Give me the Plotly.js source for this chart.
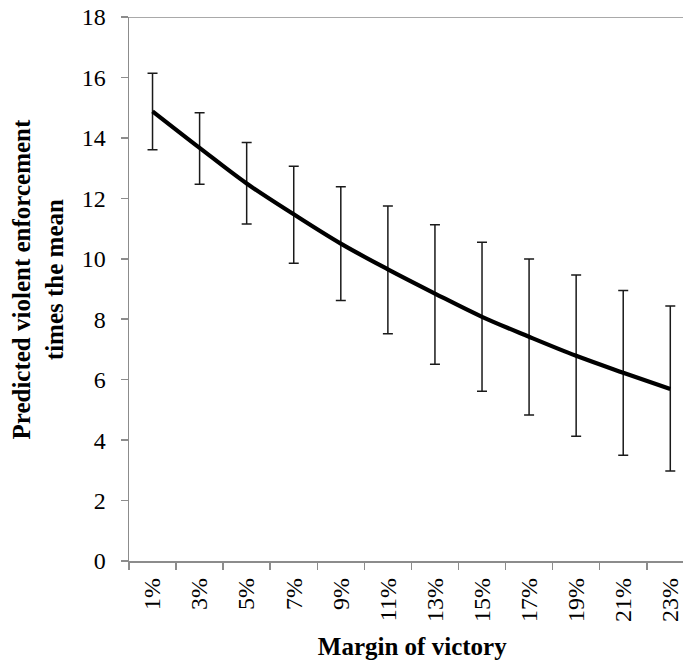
<!DOCTYPE html>
<html>
<head>
<meta charset="utf-8">
<script src="https://cdn.plot.ly/plotly-3.0.1.min.js"></script>
<style>html,body{margin:0;padding:0;overflow:hidden;background:#fff;}</style>
</head>
<body>
<div id="chart" style="width:683px;height:660px;"></div>
<script>
const categories = ["1%","3%","5%","7%","9%","11%","13%","15%","17%","19%","21%","23%"];
const predicted = [14.88,13.67,12.49,11.47,10.5,9.65,8.85,8.08,7.42,6.79,6.23,5.69];
const upper = [16.14,14.83,13.85,13.06,12.38,11.75,11.13,10.55,9.99,9.46,8.95,8.44];
const lower = [13.61,12.47,11.15,9.85,8.62,7.52,6.51,5.62,4.83,4.13,3.5,2.98];
const xTitle = "Margin of victory";
const yTitleLines = ["Predicted violent enforcement", "times the mean"];

const errPlus = upper.map((u, i) => u - predicted[i]);
const errMinus = predicted.map((p, i) => p - lower[i]);

const trace = {
  x: categories,
  y: predicted,
  type: "scatter",
  mode: "lines",
  line: {color: "#000", width: 4.2, shape: "spline", smoothing: 1},
  error_y: {
    type: "data",
    symmetric: false,
    array: errPlus,
    arrayminus: errMinus,
    color: "#1a1a1a",
    thickness: 1.5,
    width: 5
  },
  hoverinfo: "skip",
  showlegend: false
};

const serif = "Liberation Serif, Times New Roman, serif";
const axisFont = {family: serif, size: 24, color: "#000"};
const titleFont = {family: serif, size: 25, color: "#000"};
const nb = n => "&nbsp;".repeat(n);

const layout = {
  width: 683,
  height: 660,
  margin: {l: 129, r: 0, t: 17, b: 99},
  paper_bgcolor: "#fff",
  plot_bgcolor: "#fff",
  xaxis: {
    type: "category",
    range: [-0.5, 11.27],
    tickson: "boundaries",
    ticks: "outside",
    ticklen: 7,
    tickwidth: 1.5,
    tickcolor: "#8c8c8c",
    showline: true,
    linecolor: "#8c8c8c",
    linewidth: 1.5,
    showgrid: false,
    zeroline: false,
    tickangle: -90,
    tickfont: axisFont,
    ticklabelstandoff: 6,
    title: {text: "<b>" + nb(2) + xTitle + "</b>", font: titleFont, standoff: 17}
  },
  yaxis: {
    range: [0, 18],
    dtick: 2,
    ticks: "outside",
    ticklen: 7,
    tickwidth: 1.5,
    tickcolor: "#8c8c8c",
    showline: true,
    linecolor: "#8c8c8c",
    linewidth: 1.5,
    showgrid: false,
    zeroline: false,
    tickfont: axisFont,
    ticklabelstandoff: 10,
    title: {
      text: "<b>" + nb(3) + yTitleLines[0] + "<br>" + nb(3) + yTitleLines[1] + "</b>",
      font: titleFont, standoff: 11
    }
  },
  shapes: [{
    type: "line", xref: "paper", x0: 0, x1: 1, yref: "y", y0: 18, y1: 18,
    line: {color: "#8c8c8c", width: 1.5}
  }]
};

Plotly.newPlot("chart", [trace], layout, {displayModeBar: false, staticPlot: true});
</script>
</body>
</html>
